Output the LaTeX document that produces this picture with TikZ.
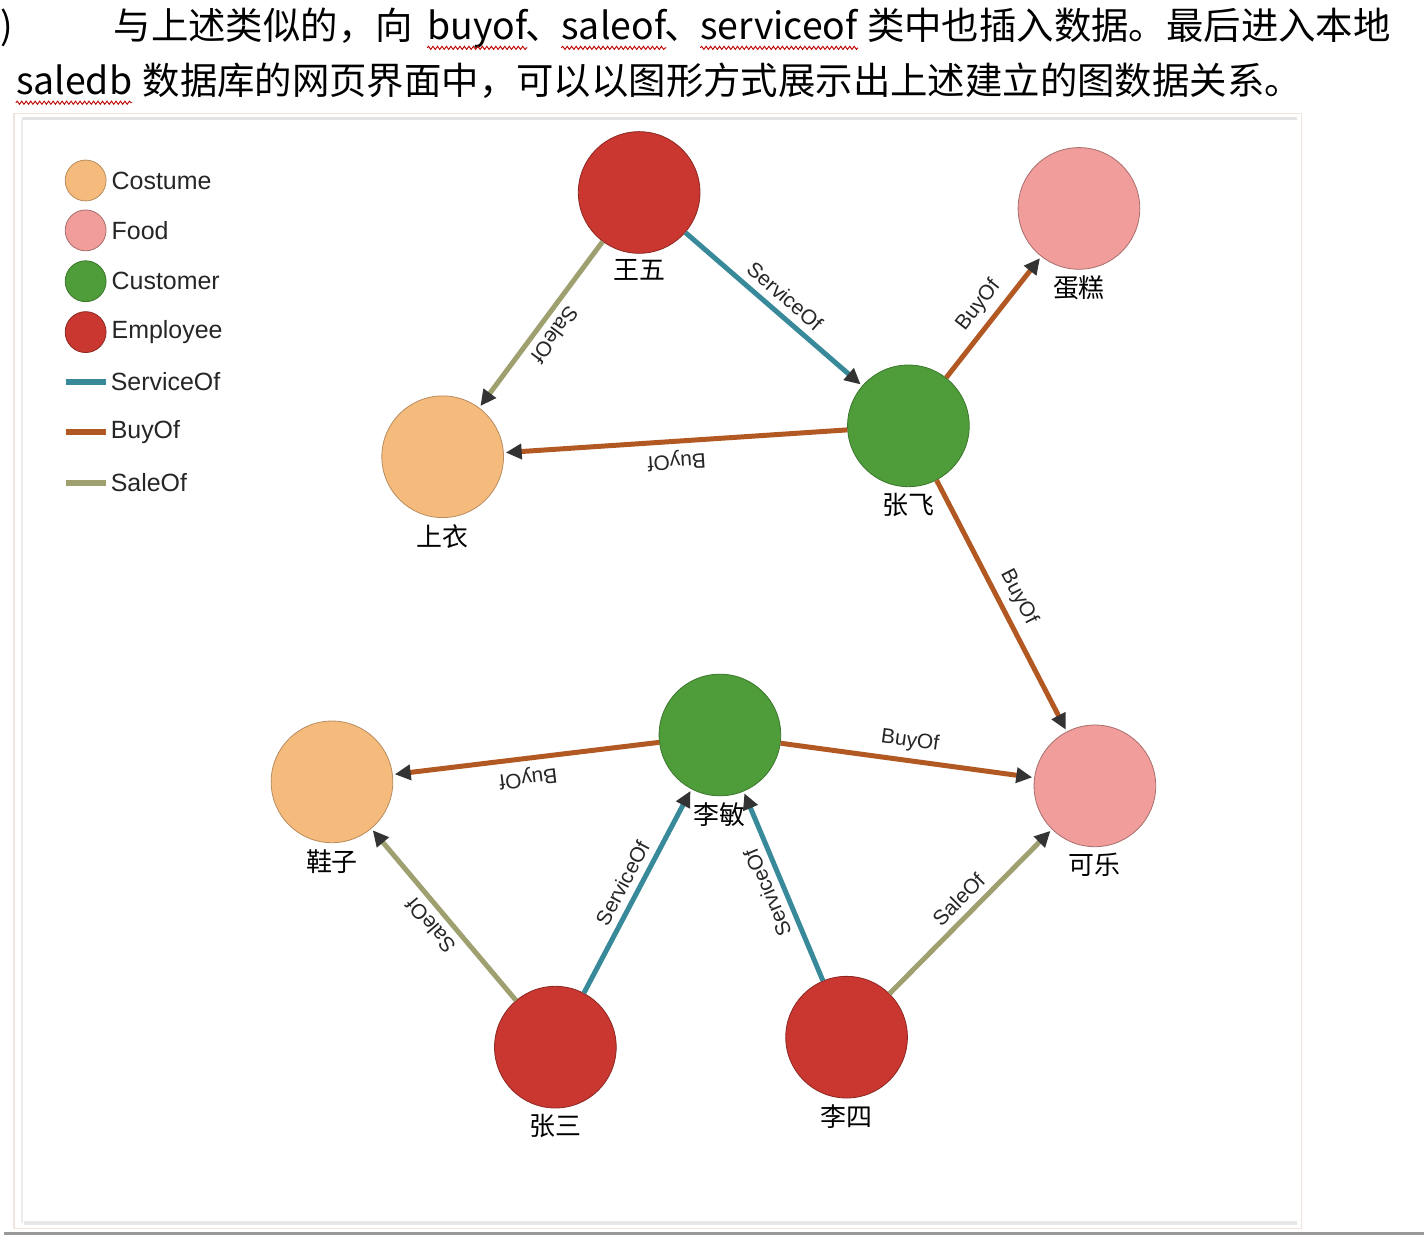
\documentclass[tikz,border=0pt]{standalone}
\usepackage{fontspec}
\setmainfont{Liberation Sans}
\newfontfamily\cjk{Noto Sans CJK SC}
\usepackage{tikz}
\usetikzlibrary{arrows.meta, positioning, decorations.pathmorphing}

\definecolor{costume}{RGB}{245,187,125}
\definecolor{food}{RGB}{240,157,155}
\definecolor{customer}{RGB}{79,157,58}
\definecolor{employee}{RGB}{201,55,48}
\definecolor{serviceof}{RGB}{56,138,155}
\definecolor{buyof}{RGB}{178,88,34}
\definecolor{saleof}{RGB}{158,160,112}
\definecolor{frameline}{RGB}{240,228,220}

\tikzset{
	ent/.style={circle, minimum size=122pt, inner sep=0pt, line width=0.8pt},
	Costume/.style={ent, fill=costume, draw=costume!75!black},
	Food/.style={ent, fill=food, draw=food!70!black},
	Customer/.style={ent, fill=customer, draw=customer!75!black},
	Employee/.style={ent, fill=employee, draw=employee!70!black},
	rel/.style={line width=5pt, shorten >=2pt, -{Triangle[length=16pt, width=15pt, color=black!80]}},
	ServiceOf/.style={rel, draw=serviceof},
	BuyOf/.style={rel, draw=buyof},
	SaleOf/.style={rel, draw=saleof},
	rlabel/.style={midway, sloped, allow upside down, above, inner sep=7pt, text=black!85, font=\fontsize{21}{24}\selectfont},
	vname/.style={inner sep=0pt, font=\cjk\fontsize{26}{30}\selectfont},
	lgtext/.style={inner sep=0pt, text=black!85, font=\fontsize{25}{28}\selectfont},
	para/.style={inner sep=0pt, font=\cjk\fontsize{37.5}{42}\selectfont},
	spell/.style={draw=red!75!black, line width=0.9pt, decorate, decoration={snake, amplitude=1.6pt, segment length=4.5pt}}
}

% relation edge: from, to, type (style name is also the label)
\newcommand{\Rel}[3]{%
	\draw[#3] (#1) -- node[rlabel] {#3} (#2);
}

\begin{document}
\begin{tikzpicture}[x=1pt, y=-1pt]
	\fill[white] (0,0) rectangle (1424,1238);

	% text above the screenshot
	\node[para, anchor=base east] (t0) at (9,40) {)};
	\node[para, anchor=base west] (t1a) at (110,40) {与上述类似的，向};
	\node[para, anchor=base west, xshift=14pt] (t1b) at (t1a.base east) {buyof};
	\node[para, anchor=base west, xshift=-2pt] (t1c) at (t1b.base east) {、};
	\node[para, anchor=base west, xshift=-2pt] (t1d) at (t1c.base east) {saleof};
	\node[para, anchor=base west, xshift=-2pt] (t1e) at (t1d.base east) {、};
	\node[para, anchor=base west, xshift=-2pt] (t1f) at (t1e.base east) {serviceof};
	\node[para, anchor=base west, xshift=9pt] (t1g) at (t1f.base east) {类中也插入数据。最后进入本地};
	\node[para, anchor=base west] (t2a) at (12,95) {saledb};
	\node[para, anchor=base west, xshift=10pt] (t2b) at (t2a.base east) {数据库的网页界面中，可以以图形方式展示出上述建立的图数据关系。};

	\draw[spell] ([yshift=-8pt]t1b.base west) -- ([yshift=-8pt]t1b.base east);
	\draw[spell] ([yshift=-8pt]t1d.base west) -- ([yshift=-8pt]t1d.base east);
	\draw[spell] ([yshift=-8pt]t1f.base west) -- ([yshift=-8pt]t1f.base east);
	\draw[spell] ([yshift=-8pt]t2a.base west) -- ([yshift=-8pt]t2a.base east);

	% screenshot frame
	\draw[frameline, line width=1.5pt] (10,114) rectangle (1301,1232);
	\draw[gray!22, line width=3pt] (18,119) -- (1297,119);
	\draw[gray!15, line width=1.5pt] (18,119) -- (18,1226);
	\draw[gray!18, line width=4pt] (20,1226) -- (1297,1226);
	\fill[black!40] (0,1235) rectangle (1424,1238);

	% legend
	\foreach \t/\y in {Costume/181, Food/231, Customer/282, Employee/333} {
		\node[\t, minimum size=41pt] (lg\t) at (82,\y) {};
		\node[lgtext, right=5pt of lg\t] (lg\t-t) {\t};
	}
	\foreach \t/\y in {ServiceOf/383, BuyOf/433, SaleOf/484} {
		\coordinate (lg\t-a) at (62,\y);
		\coordinate (lg\t-b) at (102,\y);
		\draw[\t, -, line width=6pt, shorten >=0pt] (lg\t-a) -- (lg\t-b);
		\node[lgtext, right=5pt of lg\t-b] (lg\t-t) {\t};
	}

	% vertices
	\node[Employee] (wangwu) at (637,193) {};
	\node[Food] (dangao) at (1078,209) {};
	\node[Customer] (zhangfei) at (907,427) {};
	\node[Costume] (shangyi) at (440,458) {};
	\node[Customer] (limin) at (718,737) {};
	\node[Costume] (xiezi) at (329,784) {};
	\node[Food] (kele) at (1094,788) {};
	\node[Employee] (zhangsan) at (553,1050) {};
	\node[Employee] (lisi) at (845,1040) {};

	\foreach \n/\t in {wangwu/王五, dangao/蛋糕, zhangfei/张飞, shangyi/上衣, limin/李敏, xiezi/鞋子, kele/可乐, zhangsan/张三, lisi/李四}
		\node[vname, below=6pt of \n] (\n-l) {\t};

	% edges
	\Rel{wangwu}{zhangfei}{ServiceOf}
	\Rel{wangwu}{shangyi}{SaleOf}
	\Rel{zhangfei}{shangyi}{BuyOf}
	\Rel{zhangfei}{dangao}{BuyOf}
	\Rel{zhangfei}{kele}{BuyOf}
	\Rel{limin}{xiezi}{BuyOf}
	\Rel{limin}{kele}{BuyOf}
	\Rel{zhangsan}{xiezi}{SaleOf}
	\Rel{zhangsan}{limin}{ServiceOf}
	\Rel{lisi}{limin}{ServiceOf}
	\Rel{lisi}{kele}{SaleOf}

\end{tikzpicture}
\end{document}
